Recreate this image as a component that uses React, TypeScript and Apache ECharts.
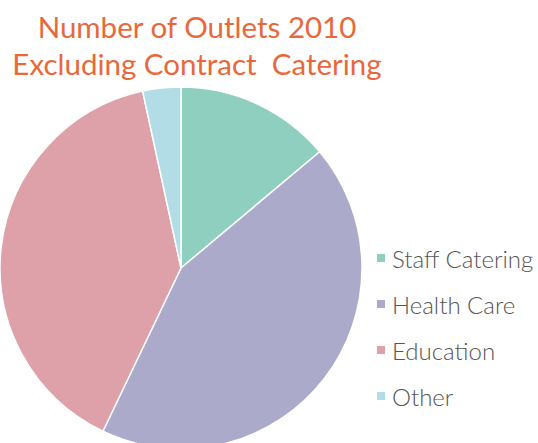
import React, { useEffect, useRef } from "react";
import * as echarts from "echarts";

const categories = ["Staff Catering", "Health Care", "Education", "Other"];
const values = [13.9, 43.2, 39.5, 3.4];
const colors = ["#8fcfbf", "#abaacb", "#dea1a9", "#b2dde6"];
const titleLines = ["Number of Outlets 2010", "Excluding Contract  Catering"];

export default function App() {
  const ref = useRef<HTMLDivElement>(null);
  useEffect(() => {
    const chart = echarts.init(ref.current!, null, { renderer: "svg" });
    chart.setOption({
      animation: false,
      backgroundColor: "#ffffff",
      title: {
        text: titleLines.join("\n"),
        left: 192,
        top: 3,
        textAlign: "center",
        textStyle: {
          color: "#e8683c",
          fontFamily: "Lato",
          fontWeight: "normal",
          fontSize: 29.5,
          lineHeight: 37,
        },
      },
      legend: {
        orient: "vertical",
        left: 370,
        top: 241,
        icon: "rect",
        itemWidth: 10,
        itemHeight: 10,
        itemGap: 22,
        data: categories,
        textStyle: {
          color: "#555555",
          fontFamily: "Lato",
          fontWeight: 300,
          fontSize: 24,
          padding: [0, 0, 0, 1],
        },
      },
      series: [
        {
          type: "pie",
          center: [181, 268],
          radius: 181,
          startAngle: 90,
          clockwise: true,
          label: { show: false },
          labelLine: { show: false },
          itemStyle: { borderColor: "#ffffff", borderWidth: 1.5 },
          emphasis: { disabled: true },
          data: categories.map((c, i) => ({
            name: c,
            value: values[i],
            itemStyle: { color: colors[i] },
          })),
        },
      ],
    });
    return () => chart.dispose();
  }, []);
  return (
    <div
      ref={ref}
      style={{ position: "absolute", left: 0, top: 0, width: 538, height: 443 }}
    />
  );
}
